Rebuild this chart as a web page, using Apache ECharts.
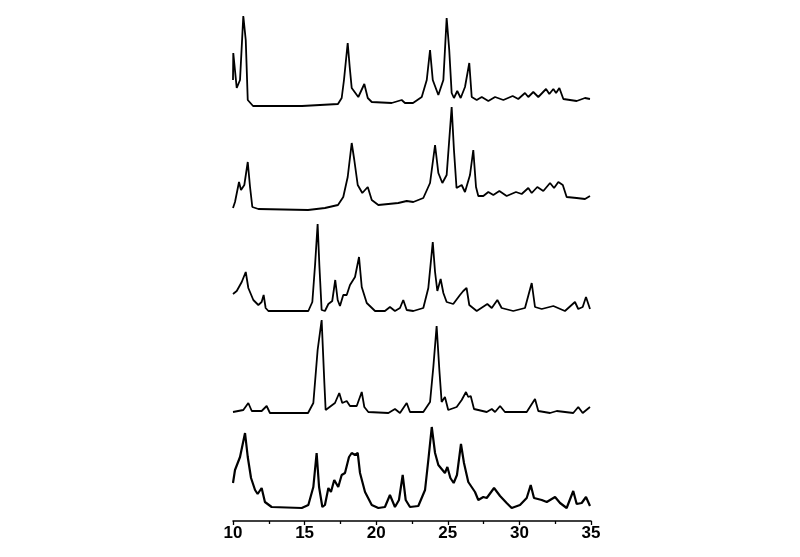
<!DOCTYPE html>
<html>
<head>
<meta charset="utf-8">
<script src="https://cdn.jsdelivr.net/npm/echarts@6/dist/echarts.min.js"></script>
<style>
html, body { margin: 0; padding: 0; background: #fff; }
#chart { width: 800px; height: 557px; }
</style>
</head>
<body>
<div id="chart"></div>
<script>
// 2-theta tick labels
var ticks = [10, 15, 20, 25, 30, 35];

// intensity above each pattern's own baseline, [2theta, counts]
var pattern1 = [
  [10.0, 26], [10.02, 53], [10.26, 18], [10.49, 26], [10.72, 90], [10.89, 66], [11.03, 6], [11.4, 0],
  [14.82, 0], [17.33, 2], [17.59, 8], [17.75, 26], [18.01, 63], [18.15, 39], [18.29, 18], [18.75, 9],
  [19.17, 22], [19.41, 8], [19.69, 4], [21.08, 3], [21.78, 6], [22.01, 3], [22.57, 3], [23.18, 9],
  [23.53, 26], [23.76, 56], [23.95, 26], [24.34, 11], [24.69, 26], [24.92, 88], [25.1, 56], [25.27, 13],
  [25.43, 8], [25.66, 15], [25.9, 8], [26.2, 19], [26.5, 43], [26.67, 9], [27.02, 6], [27.37, 9],
  [27.83, 5], [28.3, 9], [28.88, 6], [29.53, 10], [29.92, 7], [30.39, 13], [30.62, 9], [30.97, 14],
  [31.32, 9], [31.86, 17], [32.09, 12], [32.37, 17], [32.56, 13], [32.79, 18], [33.07, 7], [34.0, 5],
  [34.58, 8], [34.93, 7]
];
var pattern2 = [
  [10.0, 2], [10.14, 8], [10.42, 28], [10.56, 20], [10.79, 25], [11.03, 48], [11.19, 23], [11.35, 3],
  [11.77, 1], [15.24, 0], [16.42, 2], [17.33, 5], [17.7, 13], [18.01, 33], [18.29, 67], [18.47, 50],
  [18.71, 25], [19.03, 17], [19.41, 23], [19.69, 10], [20.15, 5], [21.54, 7], [22.13, 9], [22.59, 8],
  [23.29, 12], [23.76, 27], [24.11, 65], [24.34, 37], [24.62, 27], [24.92, 35], [25.27, 103], [25.43, 60],
  [25.61, 22], [25.97, 25], [26.2, 18], [26.55, 35], [26.78, 60], [26.97, 23], [27.13, 14], [27.48, 14],
  [27.83, 18], [28.18, 15], [28.6, 19], [29.11, 14], [29.76, 18], [30.16, 16], [30.62, 22], [30.86, 17],
  [31.25, 23], [31.67, 19], [32.14, 27], [32.42, 22], [32.72, 28], [33.03, 25], [33.3, 13], [34.0, 12],
  [34.58, 11], [34.93, 14]
];
var pattern3 = [
  [10.0, 17], [10.26, 20], [10.61, 29], [10.89, 39], [11.07, 23], [11.42, 11], [11.77, 6], [12.0, 9],
  [12.14, 16], [12.28, 3], [12.47, 0], [15.26, 0], [15.54, 9], [15.73, 46], [15.91, 87], [16.03, 46],
  [16.19, 1], [16.42, 0], [16.66, 7], [16.93, 10], [17.14, 31], [17.31, 11], [17.47, 5], [17.7, 16],
  [17.94, 16], [18.17, 26], [18.52, 34], [18.8, 54], [18.99, 24], [19.34, 8], [19.92, 0], [20.61, 0],
  [20.96, 4], [21.31, 0], [21.66, 3], [21.89, 11], [22.13, 1], [22.59, 0], [23.29, 3], [23.64, 23],
  [23.95, 69], [24.11, 39], [24.27, 20], [24.5, 32], [24.69, 18], [24.92, 9], [25.38, 7], [25.85, 16],
  [26.08, 20], [26.31, 23], [26.5, 6], [27.02, 0], [27.76, 7], [28.07, 3], [28.46, 11], [28.76, 3],
  [29.57, 0], [30.39, 3], [30.86, 28], [31.09, 4], [31.56, 2], [32.37, 5], [33.18, 0], [33.88, 9],
  [34.11, 2], [34.42, 4], [34.65, 14], [34.93, 2]
];
var pattern4 = [
  [10.0, 1], [10.72, 3], [11.07, 10], [11.31, 2], [12.0, 2], [12.35, 7], [12.58, 0], [15.24, 0],
  [15.61, 10], [15.91, 63], [16.19, 93], [16.38, 30], [16.47, 3], [16.84, 7], [17.12, 10], [17.42, 20],
  [17.63, 10], [17.94, 12], [18.17, 7], [18.64, 7], [18.99, 21], [19.17, 6], [19.45, 1], [20.85, 0],
  [21.31, 4], [21.66, 0], [22.13, 10], [22.36, 1], [23.29, 1], [23.76, 11], [23.99, 46], [24.22, 87],
  [24.41, 43], [24.57, 11], [24.8, 16], [25.03, 3], [25.62, 6], [25.97, 13], [26.27, 21], [26.43, 16],
  [26.6, 17], [26.83, 4], [27.72, 1], [28.07, 4], [28.3, 1], [28.65, 7], [28.99, 1], [30.51, 1],
  [31.09, 14], [31.32, 2], [32.14, 0], [32.61, 2], [33.76, 0], [34.11, 6], [34.42, 0], [34.93, 6]
];
var pattern5 = [
  [10.0, 25], [10.14, 38], [10.49, 51], [10.84, 75], [11.03, 51], [11.26, 30], [11.54, 18], [11.72, 14],
  [12.0, 20], [12.23, 6], [12.7, 1], [14.8, 0], [15.26, 3], [15.61, 21], [15.84, 55], [16.01, 21],
  [16.24, 1], [16.42, 3], [16.66, 20], [16.84, 16], [17.07, 28], [17.35, 21], [17.59, 33], [17.82, 35],
  [18.1, 51], [18.29, 55], [18.52, 53], [18.71, 55], [18.87, 35], [19.22, 16], [19.69, 3], [20.15, 0],
  [20.61, 1], [20.96, 13], [21.31, 1], [21.59, 8], [21.85, 33], [22.06, 8], [22.36, 1], [22.94, 2],
  [23.41, 18], [23.64, 48], [23.88, 81], [24.11, 55], [24.34, 43], [24.57, 39], [24.8, 35], [24.97, 41],
  [25.18, 30], [25.41, 25], [25.64, 33], [25.92, 64], [26.13, 45], [26.43, 26], [26.9, 16], [27.13, 8],
  [27.48, 11], [27.72, 10], [28.23, 20], [28.65, 12], [29.11, 5], [29.46, 0], [30.04, 3], [30.51, 10],
  [30.79, 23], [31.02, 10], [31.56, 8], [31.91, 6], [32.49, 11], [32.84, 5], [33.3, 0], [33.76, 17],
  [34.0, 4], [34.35, 5], [34.65, 11], [34.93, 2]
];

// vertical stacking offset of each pattern
var offsets = [415, 311, 210, 108, 13];
var patterns = [pattern1, pattern2, pattern3, pattern4, pattern5];

var series = patterns.map(function (p, i) {
  return {
    type: "line",
    showSymbol: false,
    silent: true,
    lineStyle: { color: "#000", width: i == 4 ? 2.2 : 1.8 },
    data: p.map(function (d) {
      return [d[0], d[1] + offsets[i]];
    })
  };
});

var chart = echarts.init(document.getElementById("chart"));
chart.setOption({
  animation: false,
  grid: { left: 233, right: 209, top: 0, bottom: 36 },
  xAxis: {
    type: "value",
    min: 10,
    max: 35,
    interval: 5,
    axisLine: { show: true, lineStyle: { color: "#000", width: 1.5 } },
    axisTick: { show: true, length: 4, lineStyle: { color: "#000", width: 1.3 } },
    minorTick: { show: true, splitNumber: 2, length: 3, lineStyle: { color: "#000", width: 1.3 } },
    splitLine: { show: false },
    axisLabel: {
      color: "#000",
      fontFamily: "Liberation Sans, Arial",
      fontWeight: "bold",
      fontSize: 17,
      margin: 4,
      formatter: function (v) {
        return ticks.indexOf(v) >= 0 ? String(v) : "";
      }
    }
  },
  yAxis: {
    type: "value",
    min: 0,
    max: 521,
    show: false
  },
  series: series
});
</script>
</body>
</html>
